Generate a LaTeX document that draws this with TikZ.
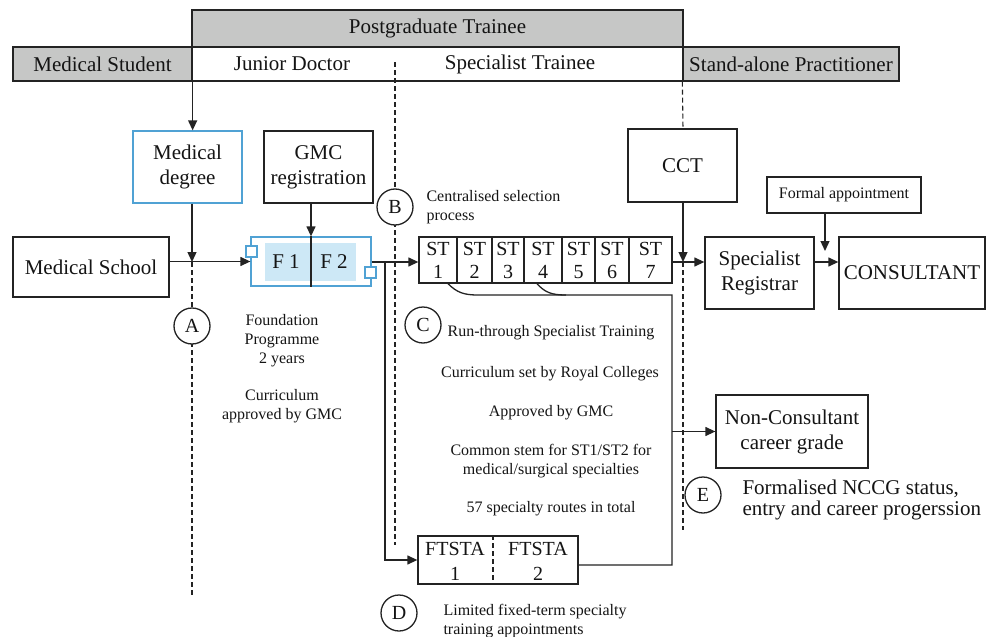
\documentclass[tikz,border=0pt]{standalone}
\usepackage{fontspec}
\setmainfont{Liberation Serif}
\usetikzlibrary{arrows.meta,calc}
\definecolor{hdrgray}{RGB}{198,199,198}
\definecolor{lnc}{RGB}{35,35,35}
\definecolor{txc}{RGB}{20,20,20}
\definecolor{bluebd}{RGB}{80,162,212}
\definecolor{bluefill}{RGB}{205,232,246}
\begin{document}
\begin{tikzpicture}[x=1pt,y=-1pt,
  bigf/.style={font=\fontsize{21}{25}\selectfont, text=txc},
  smallf/.style={font=\fontsize{16}{19}\selectfont, text=txc},
  box/.style={draw=lnc, line width=1.3pt, fill=white, inner sep=0pt, align=center, bigf},
  hdr/.style={box, fill=hdrgray},
  bbox/.style={box, draw=bluebd},
  stcell/.style={box, font=\fontsize{20}{23}\selectfont, minimum height=46pt},
  circ/.style={circle, draw=lnc, line width=1.3pt, fill=white, minimum size=36pt, inner sep=0pt, font=\fontsize{20}{20}\selectfont, text=txc},
  conn/.style={draw=lnc, line width=1.3pt},
  arr/.style={conn, -{Triangle[length=10pt,width=9pt]}},
  dsh/.style={draw=lnc, line width=1.1pt, dash pattern=on 5pt off 3pt},
]
\useasboundingbox (0,0) rectangle (989,637);

% header
\node[hdr, minimum width=491pt, minimum height=37pt] (pg) at (437.5,28.5) {Postgraduate Trainee};
\node[hdr, minimum width=179pt, minimum height=34pt] (ms) at (102.5,64) {Medical Student};
\node[box, minimum width=491pt, minimum height=34pt] (row) at (437.5,64) {};
\node[bigf] (jd) at (292,64) {Junior Doctor};
\node[bigf] (sptr) at (520,64) {Specialist Trainee};
\node[hdr, minimum width=216pt, minimum height=34pt] (sap) at (791,64) {Stand-alone Practitioner};

% junction coordinates
\coordinate (jA) at (192,262);
\coordinate (jB) at (385,262);
\coordinate (jC) at (683,262);
\coordinate (jD) at (825,251);
\coordinate (dA) at (192,595);
\coordinate (dBt) at (395,62);
\coordinate (dBb) at (395,545);
\coordinate (dCb) at (683,530);
\coordinate (rj) at (672,295);
\coordinate (rb) at (672,565);

% dashed lines
\draw[dsh] (jA) -- (dA);
\draw[dsh] (dBt) -- (dBb);
\draw[dsh] (sap.south west) -- (683,129);
\draw[dsh] (jC) -- (dCb);

% boxes
\node[bbox, minimum width=109pt, minimum height=72pt] (md) at (187.5,167) {Medical\\degree};
\node[box, minimum width=109pt, minimum height=72pt] (gmc) at (318.5,167) {GMC\\registration};
\node[box, minimum width=156pt, minimum height=60pt] (msch) at (91,267) {Medical School};

\node[bbox, minimum width=120pt, minimum height=49pt] (fbox) at (311,261.5) {};
\fill[bluefill] (265,243) rectangle (356,281);
\draw[conn] (fbox.north) -- (fbox.south);
\node[bigf] (f1) at (286,262) {F 1};
\node[bigf] (f2) at (334,262) {F 2};
\node[bbox, minimum size=11pt] (sq1) at (251.5,251.5) {};
\node[bbox, minimum size=11pt] (sq2) at (370.5,272.5) {};

\node[stcell, minimum width=38pt] (st1) at (438,260) {ST\\1};
\node[stcell, minimum width=35pt] (st2) at (474.5,260) {ST\\2};
\node[stcell, minimum width=32pt] (st3) at (508,260) {ST\\3};
\node[stcell, minimum width=38pt] (st4) at (543,260) {ST\\4};
\node[stcell, minimum width=33pt] (st5) at (578.5,260) {ST\\5};
\node[stcell, minimum width=34pt] (st6) at (612,260) {ST\\6};
\node[stcell, minimum width=43pt] (st7) at (650.5,260) {ST\\7};

\node[box, minimum width=109pt, minimum height=73pt] (cct) at (682.5,165.5) {CCT};
\node[box, smallf, minimum width=154pt, minimum height=36pt] (fa) at (844,195) {Formal appointment};
\node[box, minimum width=109pt, minimum height=72pt] (sr) at (759.5,273) {Specialist\\Registrar};
\node[box, minimum width=146pt, minimum height=72pt] (cons) at (912,273) {CONSULTANT};
\node[box, minimum width=152pt, minimum height=73pt] (ncc) at (792,431.5) {Non-Consultant\\career grade};

\node[box, minimum width=160pt, minimum height=48pt] (ftsta) at (498,560) {};
\draw[dsh] (ftsta.north -| 493,0) -- (ftsta.south -| 493,0);
\node[font=\fontsize{20}{25}\selectfont, text=txc, align=center] (ft1) at (455,561) {FTSTA\\1};
\node[font=\fontsize{20}{25}\selectfont, text=txc, align=center] (ft2) at (538,561) {FTSTA\\2};

% connectors
\draw[arr] (ms.south east) -- (ms.south east |- md.north);
\draw[arr] (md.south -| jA) -- (jA);
\draw[arr] (msch.east |- fbox.west) -- (fbox.west);
\draw[arr] (fbox.north |- gmc.south) -- (fbox.north);
\draw[arr] (fbox.east |- jA) -- (st1.west |- jA);
\draw[arr] (jB) |- (ftsta.west);
\draw[arr] (cct.south -| jC) -- (jC);
\draw[arr] (st7.east |- jC) -- (sr.west |- jC);
\draw[arr] (sr.east |- jC) -- (cons.west |- jC);
\draw[arr] (fa.south -| jD) -- (jD);
\draw[conn] ([xshift=10pt]st1.south) .. controls +(9,9) and +(-14,0) .. (478,295) -- (rj) -- (rb) -- (ftsta.east |- rb);
\draw[conn] ([xshift=-6pt]st4.south) .. controls +(8,9) and +(-14,0) .. (566,295);
\draw[arr] (ncc.west -| rj) -- (ncc.west);

% circles
\node[circ] (cA) at (192,326) {A};
\node[circ] (cB) at (395,207) {B};
\node[circ] (cC) at (423,325) {C};
\node[circ] (cD) at (399,613) {D};
\node[circ] (cE) at (703,495) {E};

% annotations
\node[smallf, anchor=west, align=left] (bt) at (423,207) {Centralised selection\\process};
\node[smallf, align=center] (at1) at (282,341) {Foundation\\Programme\\2 years};
\node[smallf, align=center] (at2) at (282,406) {Curriculum\\approved by GMC};
\node[smallf] (c1t) at (551,333) {Run-through Specialist Training};
\node[smallf] (c2t) at (550,374) {Curriculum set by Royal Colleges};
\node[smallf] (c3t) at (551,413) {Approved by GMC};
\node[smallf, align=center] (c4t) at (551,461) {Common stem for ST1/ST2 for\\medical/surgical specialties};
\node[smallf] (c5t) at (551,509) {57 specialty routes in total};
\node[smallf, anchor=west, align=left] (dt) at (440,621) {Limited fixed-term specialty\\training appointments};
\node[font=\fontsize{21}{21}\selectfont, text=txc, anchor=west, align=left] (et) at (739,500) {Formalised NCCG status,\\entry and career progerssion};
\end{tikzpicture}
\end{document}
